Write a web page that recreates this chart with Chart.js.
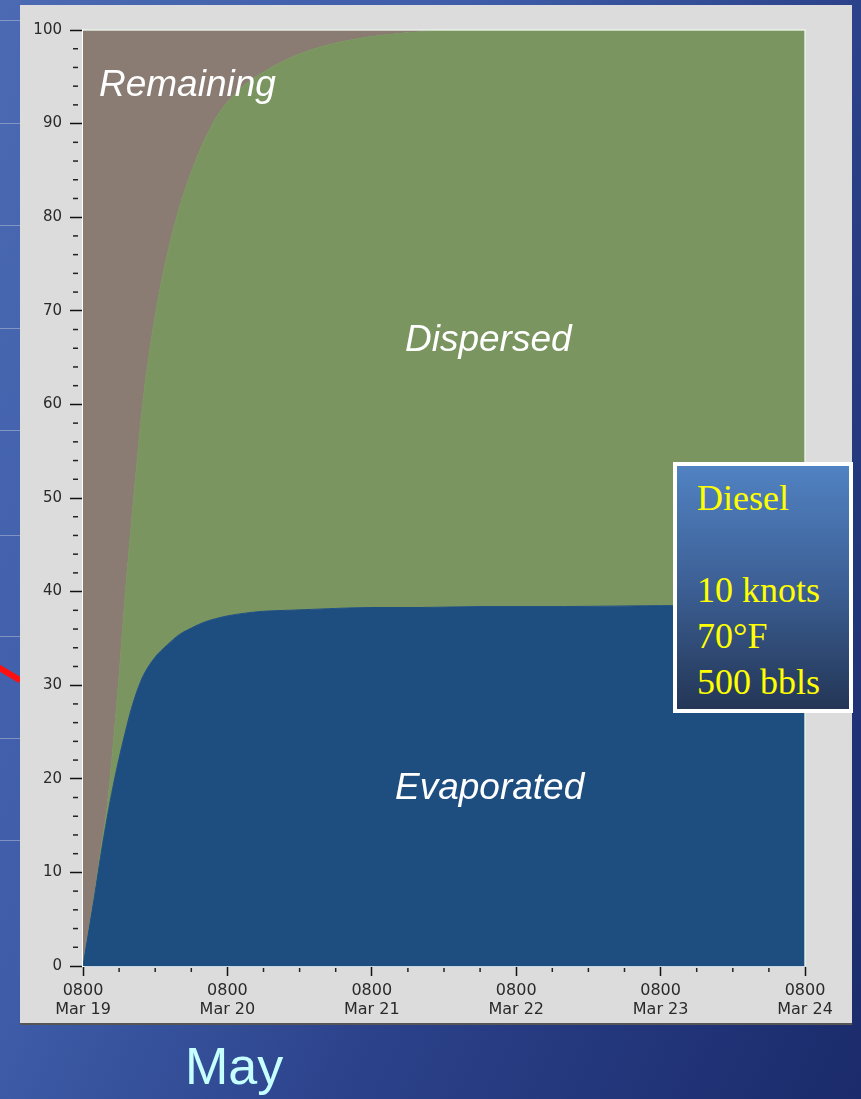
<!DOCTYPE html>
<html>
<head>
<meta charset="utf-8">
<script src="https://cdn.jsdelivr.net/npm/chart.js@4.4.0/dist/chart.umd.min.js"></script>
<style>
  html, body { margin: 0; padding: 0; }
  body {
    width: 861px; height: 1099px; overflow: hidden; position: relative;
    background: linear-gradient(115deg, #4b6ab3 0%, #3e5ca8 35%, #2a4088 65%, #1b2b6b 100%);
    font-family: "Liberation Sans", Arial, sans-serif;
  }
  .rule { position: absolute; left: 0; width: 20px; height: 1px; background: rgba(170,180,210,0.6); }
  #red { position: absolute; left: -2px; top: 664px; width: 26px; height: 6px; background: #ff1010;
         transform: rotate(31deg); transform-origin: left center; }
  #panel { position: absolute; left: 20px; top: 5px; width: 832px; height: 1018px;
           background: #dcdcdc; border-bottom: 2px solid #555; }
  .lbl { position: absolute; color: #fff; font-style: italic; font-size: 37px; line-height: 1;
         font-family: "Liberation Sans", Arial, sans-serif; }
  #info { position: absolute; left: 673px; top: 462px;
          border: 4px solid #fff; background: linear-gradient(180deg, #5182c2 0%, #3c5f94 50%, #233656 100%);
          color: #ffff00; font-family: "Liberation Serif", "Times New Roman", serif; font-size: 36px;
          line-height: 46px; padding: 9px 0 0 20px; box-sizing: border-box; width: 180px; height: 251px; }
  #may { position: absolute; left: 185px; top: 1040px; color: #c6ffff; font-size: 52px; line-height: 1; }
</style>
</head>
<body>
<div id="red"></div>
<div id="panel"><canvas id="budget"></canvas></div>
<div class="lbl" style="left:99px; top:65px;">Remaining</div>
<div class="lbl" style="left:405px; top:320px;">Dispersed</div>
<div class="lbl" style="left:395px; top:768px;">Evaporated</div>
<div id="info">Diesel<br><br>10 knots<br>70°F<br>500 bbls</div>
<div id="may">May</div>
<script>
// hours after 0800 Mar 19
const hours       = [0, 1, 2, 3, 4, 5, 6, 7, 8, 9, 10, 12, 14, 16, 18, 20, 22, 24, 27, 30, 34, 38, 42, 48, 56, 66, 80, 96, 120];
// percent of oil
const evaporated  = [0, 3.9, 7.8, 12.0, 15.8, 19.2, 22.2, 24.9, 27.4, 29.4, 31.0, 33.0, 34.3, 35.4, 36.1, 36.7, 37.1, 37.4, 37.7, 37.9, 38.0, 38.1, 38.2, 38.3, 38.3, 38.4, 38.4, 38.5, 38.5];
const dispersed   = [0, 0.2, 0.2, 0.6, 1.2, 4.3, 8.8, 14.6, 19.6, 24.6, 29.5, 36.5, 41.7, 45.6, 48.7, 51.3, 53.4, 54.9, 56.5, 57.6, 58.9, 59.8, 60.4, 61.0, 61.5, 61.6, 61.6, 61.5, 61.5];
const remaining   = [100, 95.9, 92.0, 87.4, 83.0, 76.5, 69.0, 60.5, 53.0, 46.0, 39.5, 30.5, 24.0, 19.0, 15.2, 12.0, 9.5, 7.7, 5.8, 4.5, 3.1, 2.1, 1.4, 0.7, 0.2, 0, 0, 0, 0];
const dayLabels   = ['Mar 19', 'Mar 20', 'Mar 21', 'Mar 22', 'Mar 23', 'Mar 24'];

// faint lines of the slide behind the panel
[20, 123, 225, 328, 430, 535, 636, 738, 840].forEach(function (t) {
  const d = document.createElement('div');
  d.className = 'rule';
  d.style.top = t + 'px';
  document.body.appendChild(d);
});

function pts(arr) {
  return hours.map(function (h, i) { return { x: h, y: arr[i] }; });
}

const minorTicks = {
  id: 'minorTicks',
  afterDraw(chart) {
    const ctx = chart.ctx, xs = chart.scales.x, ys = chart.scales.y;
    ctx.save();
    ctx.strokeStyle = '#222';
    ctx.lineWidth = 1.5;
    xs.ticks.forEach(function (t) {
      if (t.value % 24 !== 0) {
        const px = xs.getPixelForValue(t.value);
        ctx.beginPath(); ctx.moveTo(px, xs.top + 2); ctx.lineTo(px, xs.top + 6); ctx.stroke();
      }
    });
    ys.ticks.forEach(function (t) {
      if (t.value % 10 !== 0) {
        const py = ys.getPixelForValue(t.value);
        ctx.beginPath(); ctx.moveTo(ys.right - 10, py); ctx.lineTo(ys.right - 5, py); ctx.stroke();
      }
    });
    // light frame round the plot
    const a = chart.chartArea;
    ctx.strokeStyle = 'rgba(235,245,235,0.9)';
    ctx.beginPath();
    ctx.moveTo(a.left, a.top); ctx.lineTo(a.right, a.top); ctx.lineTo(a.right, a.bottom);
    ctx.stroke();
    ctx.restore();
  }
};

const ctx = document.getElementById('budget').getContext('2d');
new Chart(ctx, {
  type: 'line',
  data: {
    datasets: [{
      label: 'Evaporated',
      data: pts(evaporated),
      backgroundColor: '#1e4e80',
      borderColor: '#1e4e80',
      borderWidth: 1,
      fill: 'origin'
    }, {
      label: 'Dispersed',
      data: pts(dispersed),
      backgroundColor: '#7a955f',
      borderColor: '#7a955f',
      borderWidth: 1,
      fill: '-1'
    }, {
      label: 'Remaining',
      data: pts(remaining),
      backgroundColor: '#8a7c72',
      borderColor: '#8a7c72',
      borderWidth: 1,
      fill: '-1'
    }]
  },
  options: {
    responsive: true,
    maintainAspectRatio: false,
    animation: false,
    elements: { point: { radius: 0 }, line: { cubicInterpolationMode: 'monotone' } },
    layout: { padding: { top: 25, right: 47, left: 0, bottom: 0 } },
    plugins: { legend: { display: false }, tooltip: { enabled: false } },
    scales: {
      x: {
        type: 'linear',
        min: 0,
        max: 120,
        afterFit: function (s) { s.height = 57; },
        grid: {
          drawOnChartArea: false,
          tickLength: 10,
          tickWidth: 1.5,
          tickColor: function (c) { return c.tick && c.tick.value % 24 === 0 ? '#111' : 'rgba(0,0,0,0)'; }
        },
        border: { color: '#c9d6e6', width: 2 },
        ticks: {
          stepSize: 6,
          autoSkip: false,
          maxRotation: 0,
          padding: 5,
          color: '#2a2a2a',
          font: { family: 'DejaVu Sans', size: 16 },
          callback: function (v) {
            return v % 24 === 0 ? ['0800', dayLabels[v / 24]] : '';
          }
        }
      },
      y: {
        stacked: true,
        min: 0,
        max: 100,
        afterFit: function (s) { s.width = 63; },
        grid: {
          drawOnChartArea: false,
          tickLength: 13,
          tickWidth: 1.5,
          tickColor: function (c) { return c.tick && c.tick.value % 10 === 0 ? '#111' : 'rgba(0,0,0,0)'; }
        },
        border: { color: '#ffffff', width: 2 },
        ticks: {
          stepSize: 2,
          autoSkip: false,
          padding: 8,
          color: '#2a2a2a',
          font: { family: 'DejaVu Sans', size: 15 },
          callback: function (v) { return v % 10 === 0 ? v : ''; }
        }
      }
    }
  },
  plugins: [minorTicks]
});
</script>
</body>
</html>
